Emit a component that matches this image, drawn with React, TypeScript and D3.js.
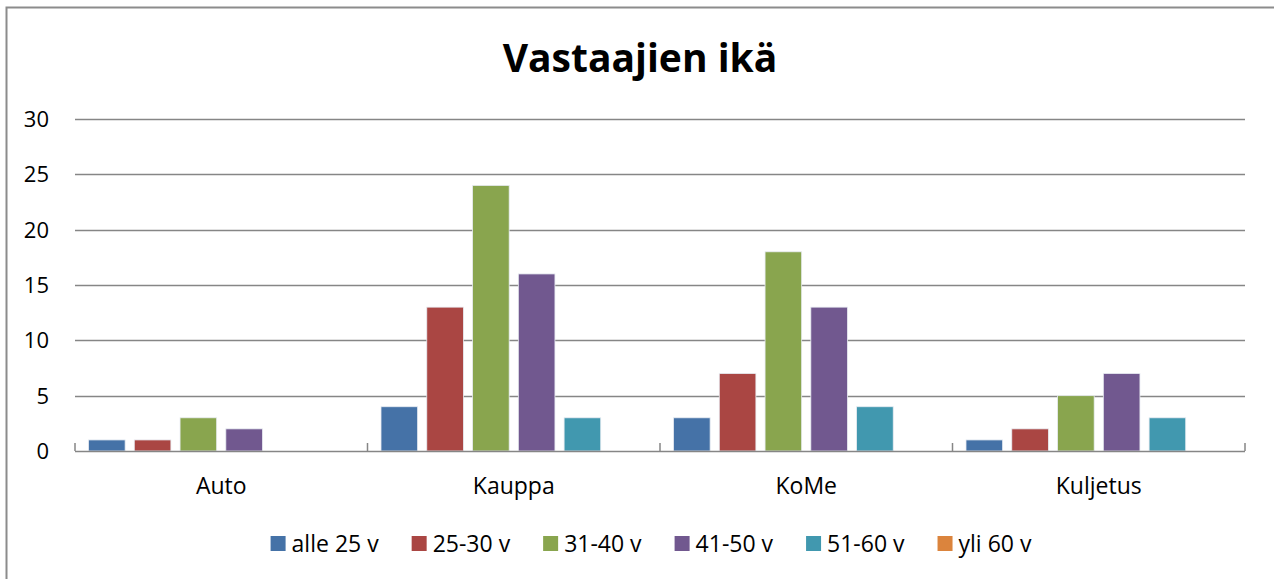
import React, { useRef, useEffect } from 'react';
import * as d3 from 'd3';

const categories = ['Auto', 'Kauppa', 'KoMe', 'Kuljetus'];
const seriesNames = ['alle 25 v', '25-30 v', '31-40 v', '41-50 v', '51-60 v', 'yli 60 v'];
const seriesColors = ['#4572A7', '#AA4643', '#89A54E', '#71588F', '#4198AF', '#DB843D'];
// values per series, one per category
const alle25 = [1, 4, 3, 1];
const v25_30 = [1, 13, 7, 2];
const v31_40 = [3, 24, 18, 5];
const v41_50 = [2, 16, 13, 7];
const v51_60 = [0, 3, 4, 3];
const yli60 = [0, 0, 0, 0];
const yTicks = [0, 5, 10, 15, 20, 25, 30];

const seriesValues = [alle25, v25_30, v31_40, v41_50, v51_60, yli60];

export default function App() {
    const ref = useRef<SVGSVGElement | null>(null);

    useEffect(() => {
        if (!ref.current) return;
        const svg = d3.select(ref.current);
        svg.selectAll('*').remove();

        const W = 1274, H = 579;
        const font = "'Open Sans', 'Noto Sans', sans-serif";
        const left = 75, right = 1245, top = 119, bottom = 451;

        svg.append('rect').attr('width', W).attr('height', H).attr('fill', '#fff');
        // outer frame
        svg.append('rect')
            .attr('x', 6.5).attr('y', 7.5)
            .attr('width', W + 10).attr('height', H + 10)
            .attr('fill', 'none').attr('stroke', '#8c8c8c').attr('stroke-width', 2);

        svg.append('text')
            .attr('x', 640).attr('y', 72)
            .attr('text-anchor', 'middle')
            .style('font-family', font).style('font-weight', 'bold').style('font-size', '39px')
            .attr('fill', '#000')
            .text('Vastaajien ikä');

        const x0 = d3.scaleBand<string>().domain(categories).range([left, right]).padding(0);
        const x1 = d3.scaleBand<number>()
            .domain(d3.range(seriesNames.length))
            .range([13.5, x0.bandwidth() - 13.5])
            .paddingInner(0.2).paddingOuter(0);
        const y = d3.scaleLinear().domain([0, 30]).range([bottom, top]);

        // grid lines
        svg.append('g').selectAll('line').data(yTicks.filter(t => t > 0)).join('line')
            .attr('x1', left).attr('x2', right)
            .attr('y1', d => Math.round(y(d)) + 0.5).attr('y2', d => Math.round(y(d)) + 0.5)
            .attr('stroke', '#868686').attr('stroke-width', 1.5);

        // y labels
        svg.append('g').selectAll('text').data(yTicks).join('text')
            .attr('x', 49).attr('y', d => y(d) + 8)
            .attr('text-anchor', 'end')
            .style('font-family', font).style('font-size', '22px')
            .attr('fill', '#000')
            .text(d => String(d));

        // bars
        const g = svg.append('g');
        seriesValues.forEach((vals, si) => {
            g.append('g').selectAll('rect').data(vals).join('rect')
                .attr('x', (d, ci) => (x0(categories[ci]) ?? 0) + (x1(si) ?? 0))
                .attr('y', d => y(d))
                .attr('width', x1.bandwidth())
                .attr('height', d => y(0) - y(d))
                .attr('fill', seriesColors[si])
                .attr('stroke', d => (d > 0 ? '#e8ecf2' : 'none'))
                .attr('stroke-width', 0.8);
        });

        // x axis line and ticks
        svg.append('line')
            .attr('x1', left).attr('x2', right)
            .attr('y1', bottom + 0.5).attr('y2', bottom + 0.5)
            .attr('stroke', '#868686').attr('stroke-width', 1.5);
        const sep = categories.map(c => x0(c) ?? 0).concat([right]);
        svg.append('g').selectAll('line').data(sep).join('line')
            .attr('x1', d => d).attr('x2', d => d)
            .attr('y1', bottom - 8).attr('y2', bottom)
            .attr('stroke', '#868686').attr('stroke-width', 1.5);

        // category labels
        svg.append('g').selectAll('text').data(categories).join('text')
            .attr('x', d => (x0(d) ?? 0) + x0.bandwidth() / 2)
            .attr('y', 494)
            .attr('text-anchor', 'middle')
            .style('font-family', font).style('font-size', '23px')
            .attr('fill', '#000')
            .text(d => d);

        // legend
        const lg = svg.append('g');
        const items = lg.selectAll('g').data(seriesNames).join('g');
        items.append('rect')
            .attr('width', 15).attr('height', 15).attr('y', 536)
            .attr('fill', (d, i) => seriesColors[i]);
        items.append('text')
            .attr('x', 21).attr('y', 552)
            .style('font-family', font).style('font-size', '23px')
            .attr('fill', '#000')
            .text(d => d);
        const widths: number[] = [];
        items.selectAll<SVGTextElement, string>('text').each(function () {
            widths.push(this.getComputedTextLength());
        });
        const gap = 33;
        const total = widths.reduce((a, w) => a + 21 + w, 0) + gap * (widths.length - 1);
        let cx = 651 - total / 2;
        items.each(function (d, i) {
            d3.select(this).attr('transform', `translate(${cx},0)`);
            cx += 21 + widths[i] + gap;
        });
    }, []);

    return (
        <svg ref={ref} width={1274} height={579}
            style={{ position: 'absolute', left: 0, top: 0, display: 'block' }} />
    );
}
